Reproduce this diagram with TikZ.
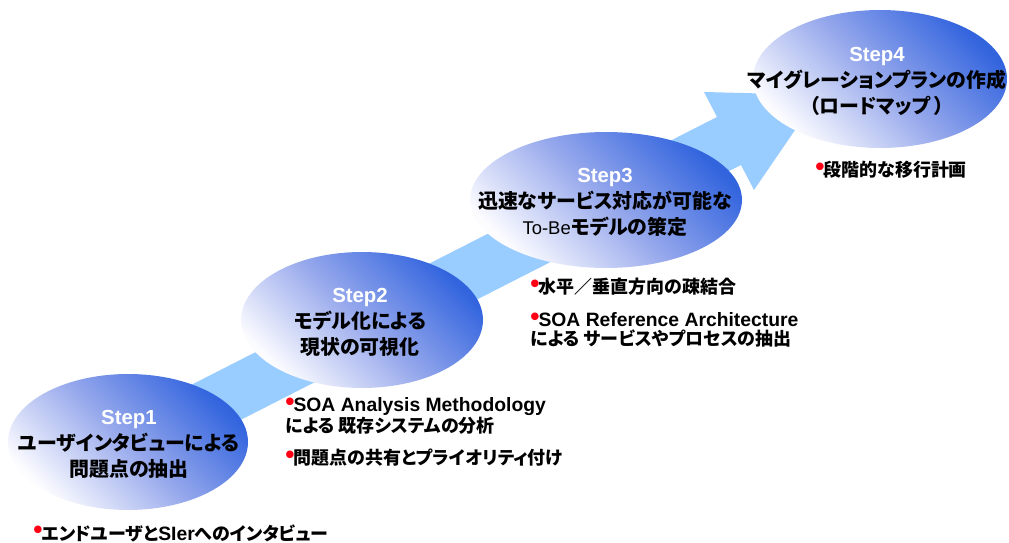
\documentclass[tikz,border=0pt]{standalone}
\usepackage{fontspec}
\setmainfont{Liberation Sans}
\newfontfamily\jpfont[RawFeature=+palt,Scale=0.93]{Noto Sans CJK JP}
\usetikzlibrary{shapes.geometric}
\definecolor{arrowblue}{RGB}{153,204,255}
\definecolor{ovaldark}{RGB}{50,100,222}
\definecolor{ovalmid}{RGB}{150,168,236}
\definecolor{ovallight}{RGB}{252,252,255}
\definecolor{dotred}{RGB}{255,0,20}
\newcommand{\ja}[1] % japanese run
{{\jpfont #1}}
\newcommand{\bul} % red bullet
{\textcolor{dotred}{\raisebox{0.8pt}{\fontsize{15}{15}\selectfont\textbullet}}\kern-0.6pt}
\tikzset{
	stepoval/.style={ellipse, inner sep=0pt, top color=ovaldark, bottom color=ovallight, middle color=ovalmid, shading angle=-45},
	steptitle/.style={align=center, inner sep=0pt, font=\fontsize{12.2}{14.8}\selectfont\bfseries},
	point/.style={anchor=west, align=left, inner sep=0pt, font=\fontsize{11}{10.6}\selectfont\bfseries}
}
\begin{document}
\begin{tikzpicture}[x=0.02cm, y=-0.02cm]
	% 1009 x 543 px, y downwards
	\useasboundingbox (0,0) rectangle (1009,543);
	% rising arrow behind the steps
	\fill[arrowblue] (138,412) -- (717,117) -- (704,92) -- (819,95) -- (754,190) -- (741,165) -- (162,460) -- cycle;
	
	% the four steps
	\node[stepoval, minimum width=4.8cm, minimum height=2.72cm] (e1) at (128,442) {};
	\node[stepoval, minimum width=4.84cm, minimum height=2.72cm] (e2) at (362,320) {};
	\node[stepoval, minimum width=5.44cm, minimum height=2.72cm] (e3) at (606,200) {};
	\node[stepoval, minimum width=5.08cm, minimum height=2.76cm] (e4) at (880,79) {};
	
	\node[steptitle] (t1) at (129,444) {\textcolor{white}{\fontsize{11.6}{14.8}\selectfont Step1}\\\ja{ユーザインタビューによる}\\\ja{問題点の抽出}};
	\node[steptitle] (t2) at (360,322) {\textcolor{white}{\fontsize{11.6}{14.8}\selectfont Step2}\\\ja{モデル化による}\\\ja{現状の可視化}};
	\node[steptitle] (t3) at (605,202) {\textcolor{white}{\fontsize{11.6}{14.8}\selectfont Step3}\\\ja{迅速なサービス対応が可能な}\\{\mdseries\fontsize{10.5}{14.8}\selectfont To-Be}\ja{モデルの策定}};
	\node[steptitle] (t4) at (877,81) {\textcolor{white}{\fontsize{11.6}{14.8}\selectfont Step4}\\\ja{マイグレーションプランの作成}\\\ja{（ロードマップ ）}};
	
	% points under each step
	\node[point] (p1) at (33,533) {\bul\ja{エンドユーザと}SIer\ja{へのインタビュー}};
	\node[point] (p2) at (285,416) {\bul SOA Analysis Methodology\\\ja{による 既存システムの分析}};
	\node[point] (p3) at (285,458) {\bul\ja{問題点の共有とプライオリティ付け}};
	\node[point] (p4) at (530,287) {\bul\ja{水平／垂直方向の疎結合}};
	\node[point] (p5) at (530,330) {\bul SOA Reference Architecture\\\ja{による サービスやプロセスの抽出}};
	\node[point] (p6) at (815,170) {\bul\ja{段階的な移行計画}};
\end{tikzpicture}
\end{document}
